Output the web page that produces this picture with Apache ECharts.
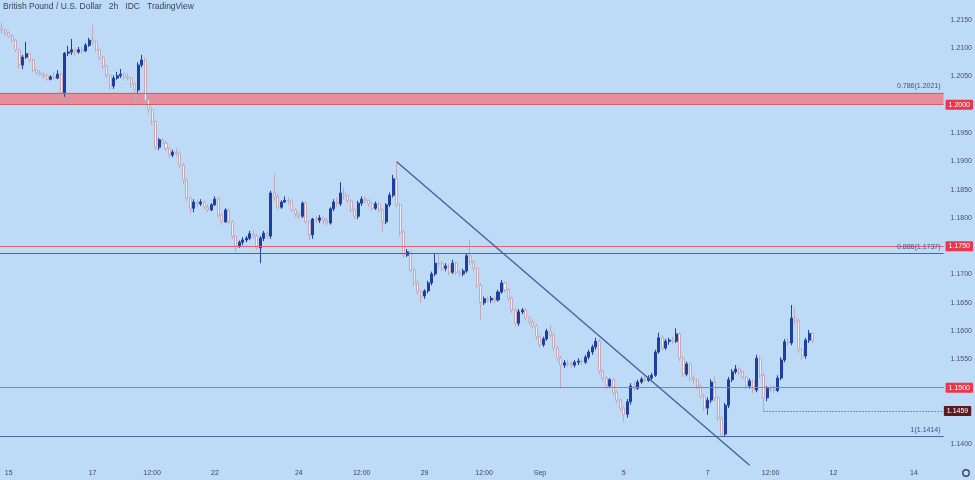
<!DOCTYPE html>
<html>
<head>
<meta charset="utf-8">
<script src="https://cdn.jsdelivr.net/npm/echarts@6/dist/echarts.min.js"></script>
<style>
html,body{margin:0;padding:0;background:#bddaf6;}
#c{width:975px;height:480px;}
</style>
</head>
<body>
<div id="c"></div>
<script>
// GBP/USD 2h candles (first open, then close/high/low per bar)
const firstOpen = 1.2136;
const closes = [
1.2132,1.2127,1.2121,1.2114,1.2097,1.2070,1.2084,1.2090,1.2079,1.2061,
1.2056,1.2054,1.2051,1.2045,1.2049,1.2047,1.2054,1.2021,1.2091,1.2093,
1.2097,1.2093,1.2097,1.2095,1.2105,1.2114,1.2111,1.2097,1.2083,1.2068,
1.2052,1.2033,1.2047,1.2051,1.2054,1.2049,1.2047,1.2037,1.2026,1.2070,
1.2079,1.2008,1.1991,1.1970,1.1925,1.1938,1.1932,1.1923,1.1911,1.1916,
1.1914,1.1893,1.1867,1.1835,1.1817,1.1828,1.1825,1.1828,1.1819,1.1814,
1.1823,1.1833,1.1805,1.1793,1.1814,1.1793,1.1768,1.1750,1.1757,1.1761,
1.1764,1.1772,1.1768,1.1747,1.1764,1.1773,1.1768,1.1844,1.1837,1.1819,
1.1828,1.1831,1.1830,1.1814,1.1807,1.1803,1.1826,1.1793,1.1770,1.1798,
1.1796,1.1800,1.1795,1.1791,1.1816,1.1828,1.1825,1.1844,1.1839,1.1830,
1.1814,1.1803,1.1826,1.1833,1.1831,1.1825,1.1817,1.1825,1.1814,1.1793,
1.1823,1.1840,1.1869,1.1823,1.1775,1.1734,1.1740,1.1708,1.1685,1.1669,
1.1662,1.1671,1.1685,1.1701,1.1720,1.1719,1.1711,1.1715,1.1704,1.1720,
1.1704,1.1701,1.1706,1.1733,1.1722,1.1711,1.1681,1.1650,1.1657,1.1655,
1.1658,1.1655,1.1669,1.1685,1.1673,1.1658,1.1637,1.1614,1.1634,1.1637,
1.1623,1.1616,1.1609,1.1590,1.1576,1.1586,1.1600,1.1593,1.1570,1.1552,
1.1540,1.1544,1.1542,1.1540,1.1545,1.1547,1.1545,1.1554,1.1563,1.1572,
1.1582,1.1529,1.1517,1.1503,1.1514,1.1492,1.1478,1.1464,1.1453,1.1475,
1.1503,1.1499,1.1510,1.1515,1.1513,1.1517,1.1522,1.1563,1.1588,1.1570,
1.1582,1.1584,1.1582,1.1595,1.1552,1.1524,1.1542,1.1517,1.1514,1.1503,
1.1485,1.1464,1.1478,1.1510,1.1482,1.1446,1.1418,1.1469,1.1514,1.1528,
1.1533,1.1528,1.1519,1.1503,1.1512,1.1496,1.1552,1.1522,1.1482,1.1499,
1.1497,1.1495,1.1517,1.1549,1.1581,1.1579,1.1623,1.1618,1.1567,1.1556,
1.1584,1.1596,1.1584
];
const highs = [
1.2145,1.2134,1.2130,1.2125,1.2116,1.2099,1.2088,1.2111,1.2093,1.2081,
1.2063,1.2061,1.2057,1.2054,1.2052,1.2058,1.2061,1.2056,1.2093,1.2104,
1.2116,1.2100,1.2102,1.2102,1.2109,1.2118,1.2141,1.2114,1.2099,1.2086,
1.2070,1.2054,1.2052,1.2058,1.2063,1.2058,1.2056,1.2049,1.2040,1.2075,
1.2088,1.2084,1.2010,1.1995,1.1973,1.1941,1.1941,1.1936,1.1925,1.1920,
1.1923,1.1918,1.1897,1.1870,1.1838,1.1833,1.1831,1.1833,1.1831,1.1823,
1.1826,1.1838,1.1836,1.1808,1.1817,1.1817,1.1796,1.1770,1.1760,1.1766,
1.1768,1.1777,1.1779,1.1772,1.1768,1.1777,1.1777,1.1848,1.1879,1.1842,
1.1831,1.1838,1.1836,1.1833,1.1817,1.1810,1.1829,1.1829,1.1796,1.1800,
1.1803,1.1805,1.1801,1.1800,1.1819,1.1833,1.1836,1.1863,1.1853,1.1842,
1.1833,1.1817,1.1830,1.1838,1.1838,1.1833,1.1828,1.1829,1.1828,1.1817,
1.1826,1.1845,1.1876,1.1899,1.1826,1.1779,1.1745,1.1743,1.1711,1.1690,
1.1673,1.1674,1.1689,1.1705,1.1738,1.1736,1.1724,1.1720,1.1719,1.1726,
1.1722,1.1708,1.1710,1.1738,1.1761,1.1726,1.1713,1.1685,1.1661,1.1661,
1.1662,1.1661,1.1673,1.1690,1.1688,1.1676,1.1661,1.1641,1.1639,1.1641,
1.1641,1.1627,1.1620,1.1613,1.1593,1.1590,1.1604,1.1611,1.1597,1.1574,
1.1556,1.1549,1.1549,1.1547,1.1549,1.1552,1.1551,1.1558,1.1567,1.1576,
1.1588,1.1586,1.1533,1.1520,1.1517,1.1517,1.1496,1.1481,1.1467,1.1480,
1.1508,1.1512,1.1514,1.1519,1.1521,1.1522,1.1526,1.1567,1.1597,1.1593,
1.1586,1.1588,1.1590,1.1605,1.1598,1.1556,1.1546,1.1545,1.1522,1.1517,
1.1506,1.1489,1.1483,1.1515,1.1520,1.1485,1.1450,1.1473,1.1519,1.1533,
1.1540,1.1537,1.1531,1.1522,1.1516,1.1515,1.1558,1.1556,1.1526,1.1503,
1.1505,1.1505,1.1522,1.1554,1.1586,1.1588,1.1646,1.1641,1.1622,1.1570,
1.1588,1.1602,1.1598
];
const lows = [
1.2125,1.2122,1.2118,1.2110,1.2093,1.2064,1.2063,1.2081,1.2075,1.2057,
1.2052,1.2050,1.2047,1.2042,1.2043,1.2044,1.2045,1.2008,1.2014,1.2086,
1.2088,1.2086,1.2090,1.2090,1.2093,1.2102,1.2105,1.2093,1.2079,1.2063,
1.2047,1.2026,1.2028,1.2044,1.2047,1.2044,1.2042,1.2030,1.1999,1.2021,
1.2066,1.2002,1.1985,1.1964,1.1920,1.1920,1.1929,1.1918,1.1905,1.1907,
1.1909,1.1888,1.1860,1.1829,1.1808,1.1810,1.1819,1.1821,1.1816,1.1810,
1.1812,1.1821,1.1800,1.1787,1.1791,1.1789,1.1763,1.1740,1.1747,1.1752,
1.1757,1.1761,1.1764,1.1743,1.1720,1.1759,1.1763,1.1763,1.1830,1.1814,
1.1816,1.1826,1.1824,1.1810,1.1801,1.1798,1.1800,1.1789,1.1761,1.1763,
1.1791,1.1791,1.1789,1.1786,1.1788,1.1812,1.1819,1.1821,1.1833,1.1826,
1.1810,1.1798,1.1798,1.1821,1.1826,1.1819,1.1812,1.1814,1.1810,1.1775,
1.1789,1.1819,1.1836,1.1819,1.1768,1.1729,1.1731,1.1704,1.1680,1.1664,
1.1650,1.1657,1.1667,1.1681,1.1697,1.1713,1.1706,1.1706,1.1699,1.1701,
1.1699,1.1696,1.1697,1.1703,1.1717,1.1706,1.1676,1.1620,1.1646,1.1650,
1.1650,1.1650,1.1652,1.1666,1.1668,1.1653,1.1632,1.1608,1.1609,1.1630,
1.1618,1.1611,1.1604,1.1585,1.1570,1.1572,1.1583,1.1588,1.1565,1.1547,
1.1499,1.1535,1.1537,1.1535,1.1536,1.1540,1.1540,1.1542,1.1550,1.1558,
1.1567,1.1524,1.1511,1.1497,1.1499,1.1487,1.1473,1.1459,1.1440,1.1447,
1.1470,1.1494,1.1496,1.1507,1.1510,1.1510,1.1514,1.1519,1.1560,1.1565,
1.1567,1.1576,1.1577,1.1579,1.1547,1.1519,1.1520,1.1512,1.1508,1.1497,
1.1480,1.1459,1.1452,1.1473,1.1476,1.1441,1.1413,1.1413,1.1464,1.1510,
1.1524,1.1522,1.1514,1.1497,1.1498,1.1490,1.1492,1.1517,1.1459,1.1476,
1.1492,1.1490,1.1492,1.1513,1.1545,1.1574,1.1575,1.1611,1.1561,1.1549,
1.1551,1.1579,1.1579
];
const barSlots = 270; // bars incl. empty future space
// x tick labels: bar index -> label
const tickLabels = {2:'15',26:'17',43:'12:00',61:'22',85:'24',103:'12:00',121:'29',138:'12:00',154:'Sep',178:'5',202:'7',220:'12:00',238:'12',261:'14'};
// y tick labels
const priceTicks = [1.2150,1.2100,1.2050,1.1950,1.1900,1.1850,1.1800,1.1700,1.1650,1.1600,1.1550,1.1400];
// levels
const zoneLow = 1.2000, zoneHigh = 1.2021;
const redLevels = [1.1750, 1.1500];
const fibLevels = [[1.1737,'0.886(1.1737)'],[1.1414,'1(1.1414)']];
const lastLow = {from: 218, to: 269, value: 1.1459};
const trendLine = [[112.9, 1.1899],[214.4, 1.1363]];

const categories = [];
for (let i = 0; i < barSlots; i++) categories.push(String(i));
const candles = closes.map((c, i) => [i === 0 ? firstOpen : closes[i-1], c, lows[i], highs[i]]);

const FONT = 'Liberation Sans, Arial, sans-serif';
const boxLabel = (txt, bg) => ({
  show: true, position: 'end', distance: 2, formatter: txt,
  backgroundColor: bg, color: '#ffffff', fontSize: 7, fontFamily: FONT,
  padding: [2, 3, 1, 3], borderRadius: 1
});
const fibLabel = (txt) => ({ show: true, position: 'insideEndTop', formatter: txt, color: '#3a5683', fontSize: 7, fontFamily: FONT, distance: 3 });

const markLineData = [];
markLineData.push({ yAxis: zoneHigh, lineStyle: { color: '#d45c6b', width: 1, type: 'solid' }, label: fibLabel('0.786(1.2021)') });
markLineData.push({ yAxis: zoneLow, lineStyle: { color: '#d45c6b', width: 1, type: 'solid' }, label: boxLabel('1.2000', '#e8394c') });
redLevels.forEach(v => markLineData.push({ yAxis: v, lineStyle: { color: '#e2606f', width: 1, type: 'solid' }, label: boxLabel(v.toFixed(4), '#e8394c') }));
fibLevels.forEach(f => markLineData.push({ yAxis: f[0], lineStyle: { color: '#4a66a0', width: 1, type: 'solid' }, label: fibLabel(f[1]) }));
markLineData.push([
  { coord: [lastLow.from, lastLow.value], lineStyle: { color: '#5a3a42', width: 1, type: [1, 2] }, label: boxLabel(lastLow.value.toFixed(4), '#5a1a22') },
  { coord: [lastLow.to, lastLow.value] }
]);
markLineData.push([
  { coord: trendLine[0], lineStyle: { color: '#3e5ea6', width: 1.3, type: 'solid' }, label: { show: false } },
  { coord: trendLine[1] }
]);

const chart = echarts.init(document.getElementById('c'), null, { renderer: 'canvas' });
chart.setOption({
  animation: false,
  backgroundColor: '#bddaf6',
  grid: { left: 0, right: 30, top: 0, bottom: 7.43 },
  xAxis: {
    type: 'category', data: categories, boundaryGap: true,
    axisLine: { show: false }, axisTick: { show: false }, splitLine: { show: false },
    axisLabel: {
      interval: (idx) => tickLabels[idx] !== undefined,
      formatter: (v, idx) => tickLabels[idx] || '',
      color: '#3f4857', fontSize: 7, fontFamily: FONT, margin: -3
    }
  },
  yAxis: {
    type: 'value', position: 'right', min: 1.135, max: 1.2185,
    axisLine: { show: false }, axisTick: { show: false }, splitLine: { show: false },
    axisLabel: {
      customValues: priceTicks,
      margin: 7, align: 'left', color: '#4a5363', fontSize: 7, fontFamily: FONT,
      formatter: (v) => v.toFixed(4)
    }
  },
  series: [{
    type: 'candlestick',
    data: candles,
    barWidth: '72%',
    itemStyle: {
      color: '#1f3f9c', borderColor: '#1f3f9c',
      color0: '#f6eef4', borderColor0: '#c3a9b8', borderWidth: 1
    },
    markArea: {
      silent: true,
      data: [[{ yAxis: zoneLow, itemStyle: { color: '#e68f9a', borderWidth: 0 } }, { yAxis: zoneHigh }]]
    },
    markLine: {
      silent: true, symbol: ['none', 'none'], animation: false, precision: 4,
      data: markLineData
    }
  }],
  graphic: [
    { type: 'text', left: 3, top: 2, style: { text: 'British Pound / U.S. Dollar   2h   IDC   TradingView', fill: '#3a4556', font: '8.5px ' + FONT } },
    { type: 'circle', shape: { cx: 966, cy: 473, r: 3.2 }, style: { fill: 'none', stroke: '#3a4556', lineWidth: 1.4 } }
  ]
});
</script>
</body>
</html>
